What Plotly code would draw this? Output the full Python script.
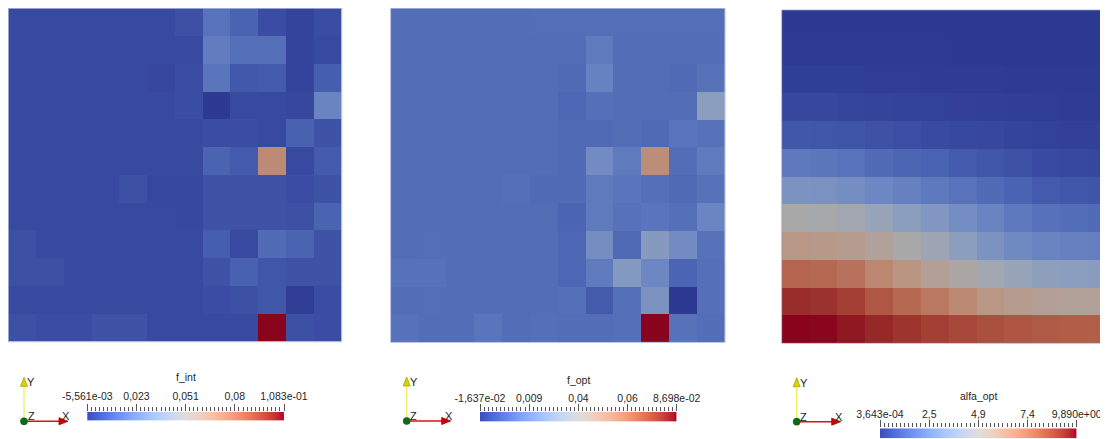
import numpy as np
import plotly.graph_objects as go

# the page body adds an 8px margin, so the figure is 8px smaller than the window
OFF = 8
W, H = 1108 - OFF, 439 - OFF

# ---------------- data (rows listed top -> bottom, columns left -> right) ----------------
cols = list(range(12))
rows = list(range(12))

f_int = [
    [0, 0, 0, 0, 0, 0, 0.002, 0.015, 0.009, 0.001, -0.002, 0.001],
    [0, 0, 0, 0, 0, 0, 0, 0.019, 0.013, 0.013, -0.002, 0.0],
    [0, 0, 0, 0, 0, -0.001, 0.001, 0.016, 0.005, 0.006, -0.002, 0.007],
    [0, 0, 0, 0, 0, 0, 0.001, -0.00556, 0, 0, -0.001, 0.022],
    [0, 0, 0, 0, 0, 0, 0, 0.001, 0.001, 0, 0.008, 0.003],
    [0, 0, 0, 0, 0, 0, 0, 0.009, 0.006, 0.071, 0, 0.006],
    [0, 0, 0, 0, 0.002, -0.0005, -0.0005, 0.003, 0.003, 0.003, 0.001, 0.003],
    [0, 0, 0, 0, 0, 0, -0.0005, 0.003, 0.003, 0.003, 0.002, 0.009],
    [0.002, 0, 0, 0, 0, 0, 0, 0.007, 0, 0.012, 0.009, 0.003],
    [0.002, 0.002, 0, 0, 0, 0, 0, 0.003, 0.008, 0.004, 0.003, 0.003],
    [0, 0, 0, 0, 0, 0, 0, 0.001, 0.002, 0.004, -0.004, 0.001],
    [0.002, 0.001, 0.001, 0.003, 0.003, 0, 0, 0, 0, 0.1083, 0.002, 0.001],
]

f_opt = [
    [0, 0, 0, 0, 0, 0.0005, 0.0005, 0.0005, 0.0005, 0.0005, 0.0005, 0.0005],
    [0, 0, 0, 0, 0, 0, 0, 0.005, 0, 0, 0, 0],
    [0, 0, 0, 0, 0, 0, -0.001, 0.008, 0, 0, -0.0005, 0.002],
    [0, 0, 0, 0, 0, 0, -0.002, 0.001, 0, 0, 0, 0.022],
    [0, 0, 0, 0, 0, 0, -0.001, -0.001, 0, -0.001, 0.003, 0.002],
    [0, 0, 0, 0, 0, 0, -0.001, 0.012, 0.005, 0.052, 0, 0.005],
    [0, 0, 0, 0, 0.001, -0.0005, -0.0005, 0.005, 0.003, 0.001, -0.001, 0.002],
    [0, 0, 0, 0, 0, 0, -0.003, 0.005, 0.002, 0.003, 0.001, 0.009],
    [0, 0.0005, 0, 0, 0, 0, -0.002, 0.013, -0.001, 0.020, 0.012, 0.002],
    [0.002, 0.002, 0, 0, 0, 0, -0.002, 0.005, 0.019, 0.010, -0.003, 0.001],
    [0, 0.0005, 0, 0, 0, 0, 0.001, -0.006, 0.001, 0.016, -0.01637, 0.001],
    [0.002, 0, 0, 0.003, 0, 0.001, 0, 0, 0.001, 0.08698, 0.002, 0],
]

alfa_opt = [
    [0.01, 0.01, 0.01, 0.008, 0.007, 0.006, 0.005, 0.004, 0.003, 0.002, 0.001, 0.000364],
    [0.03, 0.03, 0.03, 0.02, 0.02, 0.02, 0.01, 0.01, 0.01, 0.01, 0.005, 0.005],
    [0.15, 0.15, 0.14, 0.10, 0.08, 0.07, 0.06, 0.05, 0.04, 0.03, 0.02, 0.02],
    [0.40, 0.38, 0.35, 0.32, 0.28, 0.24, 0.20, 0.16, 0.12, 0.09, 0.06, 0.05],
    [0.90, 0.85, 0.80, 0.70, 0.60, 0.50, 0.45, 0.40, 0.30, 0.25, 0.20, 0.20],
    [2.0, 1.95, 1.8, 1.5, 1.35, 1.2, 1.0, 0.85, 0.7, 0.5, 0.45, 0.4],
    [3.1, 3.0, 2.8, 2.5, 2.3, 2.0, 1.8, 1.5, 1.25, 1.0, 0.9, 0.8],
    [4.95, 4.9, 4.6, 4.2, 3.7, 3.3, 2.8, 2.4, 2.0, 1.75, 1.6, 1.5],
    [6.1, 6.0, 5.8, 5.4, 4.95, 4.4, 3.7, 3.1, 2.6, 2.4, 2.3, 2.2],
    [7.9, 7.8, 7.5, 6.8, 6.2, 5.6, 5.1, 4.6, 4.2, 3.8, 3.7, 3.6],
    [9.3, 9.2, 8.9, 8.3, 7.8, 7.3, 6.7, 6.1, 5.8, 5.6, 5.5, 5.5],
    [9.89, 9.85, 9.65, 9.4, 9.15, 8.9, 8.7, 8.5, 8.35, 8.2, 8.15, 8.1],
]

f_int_range = (-5.561e-03, 1.083e-01)
f_opt_range = (-1.637e-02, 8.698e-02)
alfa_opt_range = (3.643e-04, 9.890e+00)

f_int_ticktext = ["-5,561e-03", "0,023", "0,051", "0,08", "1,083e-01"]
f_opt_ticktext = ["-1,637e-02", "0,009", "0,04", "0,06", "8,698e-02"]
alfa_opt_ticktext = ["3,643e-04", "2,5", "4,9", "7,4", "9,890e+00"]

titles = ["f_int", "f_opt", "alfa_opt"]

# ParaView "Cool to Warm" colormap
COOLWARM = [
    (59, 76, 192), (68, 90, 204), (77, 104, 215), (87, 117, 225), (98, 130, 234),
    (108, 142, 241), (119, 154, 247), (130, 165, 251), (141, 176, 254), (152, 185, 255),
    (163, 194, 255), (174, 201, 253), (184, 208, 249), (194, 213, 244), (204, 217, 238),
    (213, 219, 230), (221, 221, 221), (229, 216, 209), (236, 211, 197), (241, 204, 185),
    (245, 196, 173), (247, 187, 160), (247, 177, 148), (247, 166, 135), (244, 154, 123),
    (241, 141, 111), (236, 127, 99), (229, 112, 88), (222, 96, 77), (213, 80, 66),
    (203, 62, 56), (192, 40, 47), (180, 4, 38),
]


def cscale(f):
    n = len(COOLWARM) - 1
    return [[i / n, "rgb(%d,%d,%d)" % (round(r * f), round(g * f), round(b * f))]
            for i, (r, g, b) in enumerate(COOLWARM)]


LIT = cscale(0.76)    # shaded surface colours
BAR = cscale(1.0)     # scalar bar colours


def px_x(p):          # window pixel -> paper fraction
    return (p - OFF) / W


def px_y(p):
    return 1 - (p - OFF) / H


panels = [
    dict(x0=8.3, x1=341.7, y0=8.3, y1=341.7, xr=[-0.5, 11.5]),
    dict(x0=390.7, x1=725.0, y0=8.3, y1=342.3, xr=[-0.5, 11.5]),
    dict(x0=781.7, x1=1108.0, y0=10.0, y1=343.3, xr=[-0.5, 11.21]),
]
bars = [
    dict(x0=87.3, x1=284.0, y0=411.7, y1=420.5, ty=377.0, so=0),
    dict(x0=480.0, x1=676.7, y0=411.7, y1=421.5, ty=379.5, so=-2),
    dict(x0=880.0, x1=1076.7, y0=428.3, y1=438.3, ty=396.0, so=-2),
]
triads = [(24.0, 421.3), (406.7, 421.0), (796.7, 421.7)]

datasets = [f_int, f_opt, alfa_opt]
ranges = [f_int_range, f_opt_range, alfa_opt_range]
ticktexts = [f_int_ticktext, f_opt_ticktext, alfa_opt_ticktext]

FONT = "Liberation Sans, Arial, sans-serif"
TXT = "#262626"
TICK = "#555555"

fig = go.Figure()
layout = dict(template="none", width=W, height=H,
              margin=dict(l=0, r=0, t=0, b=0, pad=0, autoexpand=False),
              paper_bgcolor="white", plot_bgcolor="white", showlegend=False,
              font=dict(family=FONT, color=TXT, size=10.5))
shapes, annotations = [], []

for i in range(3):
    p, b = panels[i], bars[i]
    lo, hi = ranges[i]
    ax = 2 * i + 1
    bx = 2 * i + 2
    sx = "" if ax == 1 else str(ax)
    # main field
    fig.add_trace(go.Heatmap(z=datasets[i], x=cols, y=rows, zmin=lo, zmax=hi,
                             colorscale=LIT, showscale=False,
                             xaxis="x" + sx, yaxis="y" + sx))
    layout["xaxis" + sx] = dict(domain=[px_x(p["x0"]), min(1.0, px_x(p["x1"]))], range=p["xr"],
                                visible=False, anchor="y" + sx, automargin=False)
    layout["yaxis" + sx] = dict(domain=[px_y(p["y1"]), px_y(p["y0"])], range=[11.5, -0.5],
                                visible=False, anchor="x" + sx, automargin=False)
    # faint outline of the surface
    shapes.append(dict(type="rect", xref="paper", yref="paper",
                       x0=px_x(p["x0"]), x1=min(1.0, px_x(p["x1"])),
                       y0=px_y(p["y1"]), y1=px_y(p["y0"]),
                       line=dict(color="rgba(150,160,215,0.7)", width=1),
                       fillcolor="rgba(0,0,0,0)"))
    # scalar bar
    grad = np.linspace(lo, hi, 256)
    fig.add_trace(go.Heatmap(z=[grad], x=grad, y=[0], zmin=lo, zmax=hi,
                             colorscale=BAR, showscale=False,
                             xaxis="x%d" % bx, yaxis="y%d" % bx, hoverinfo="skip"))
    tickvals = [lo + k * (hi - lo) / 4 for k in range(5)]
    minorvals = [lo + k * (hi - lo) / 48 for k in range(49)]
    layout["xaxis%d" % bx] = dict(
        domain=[px_x(b["x0"]), px_x(b["x1"])], range=[lo, hi], anchor="y%d" % bx,
        side="top", showgrid=False, zeroline=False, showline=False, automargin=False,
        ticks="outside", ticklen=7, tickwidth=1, tickcolor=TICK,
        tickmode="array", tickvals=tickvals, ticktext=ticktexts[i],
        ticklabelstandoff=b["so"],
        tickfont=dict(family=FONT, size=10.5, color=TXT),
        minor=dict(ticks="outside", ticklen=4, tickwidth=1, tickcolor=TICK,
                   tickmode="array", tickvals=minorvals, showgrid=False),
    )
    layout["yaxis%d" % bx] = dict(domain=[max(0.0, px_y(b["y1"])), px_y(b["y0"])], visible=False,
                                  anchor="x%d" % bx, automargin=False)
    annotations.append(dict(text=titles[i], x=px_x((b["x0"] + b["x1"]) / 2), y=px_y(b["ty"]),
                            xref="paper", yref="paper", showarrow=False,
                            xanchor="center", yanchor="middle",
                            font=dict(family=FONT, size=10.5, color=TXT)))

    # orientation triad
    cx, cy = triads[i]
    shapes.append(dict(type="line", xref="paper", yref="paper",
                       x0=px_x(cx), y0=px_y(cy), x1=px_x(cx), y1=px_y(cy - 36),
                       line=dict(color="#eded55", width=1.2)))
    shapes.append(dict(type="path", xref="paper", yref="paper",
                       path="M %f %f L %f %f L %f %f Z" % (
                           px_x(cx - 3.5), px_y(cy - 35), px_x(cx + 3.5), px_y(cy - 35),
                           px_x(cx), px_y(cy - 44)),
                       fillcolor="#d8d400", line=dict(color="#a8a400", width=0.8)))
    shapes.append(dict(type="line", xref="paper", yref="paper",
                       x0=px_x(cx), y0=px_y(cy), x1=px_x(cx + 36), y1=px_y(cy),
                       line=dict(color="#e01010", width=1.4)))
    shapes.append(dict(type="path", xref="paper", yref="paper",
                       path="M %f %f L %f %f L %f %f Z" % (
                           px_x(cx + 35), px_y(cy - 3.5), px_x(cx + 35), px_y(cy + 3.5),
                           px_x(cx + 44), px_y(cy)),
                       fillcolor="#d00000", line=dict(color="#a00000", width=0.8)))
    shapes.append(dict(type="circle", xref="paper", yref="paper",
                       x0=px_x(cx - 3.6), x1=px_x(cx + 3.6), y0=px_y(cy + 3.6), y1=px_y(cy - 3.6),
                       fillcolor="#0d6b1a", line=dict(color="#0a5a14", width=0.5)))
    for txt, dx, dy in (("Y", 7, -39), ("Z", 7, -5), ("X", 42, -5)):
        annotations.append(dict(text=txt, x=px_x(cx + dx), y=px_y(cy + dy),
                                xref="paper", yref="paper", showarrow=False,
                                xanchor="center", yanchor="middle",
                                font=dict(family=FONT, size=11, color="#1a1a1a")))

layout["shapes"] = shapes
layout["annotations"] = annotations
fig.update_layout(**layout)
fig.write_html("out.html")
